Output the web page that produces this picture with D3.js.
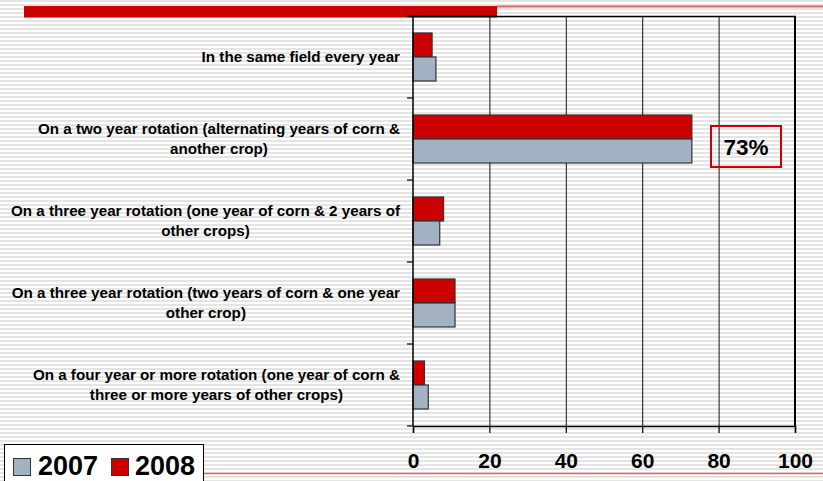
<!DOCTYPE html>
<html>
<head>
<meta charset="utf-8">
<script src="https://cdn.jsdelivr.net/npm/d3@7"></script>
<style>
  html, body { margin: 0; padding: 0; background: #fff; }
  svg { display: block; font-family: "Liberation Sans", Arial, sans-serif; }
</style>
</head>
<body>
<svg id="chart" width="823" height="481"></svg>
<script>
const categories = [
  ["In the same field every year"],
  ["On a two year rotation (alternating years of corn &", "another crop)"],
  ["On a three year rotation (one year of corn & 2 years of", "other crops)"],
  ["On a three year rotation (two years of corn & one year", "other crop)"],
  ["On a four year or more rotation (one year of corn &", "three or more years of other crops)"]
];
const seriesNames = ["2007", "2008"];
const values2007 = [6, 73, 7, 11, 4];
const values2008 = [5, 73, 8, 11, 3];
const xTicks = [0, 20, 40, 60, 80, 100];
const calloutText = "73%";

const colors = { "2007": "#a3b2c2", "2008": "#cc0000" };

const svg = d3.select("#chart");

// striped background
const defs = svg.append("defs");
const pat = defs.append("pattern").attr("id", "stripes")
  .attr("patternUnits", "userSpaceOnUse").attr("width", 8).attr("height", 4);
pat.append("rect").attr("width", 8).attr("height", 4).attr("fill", "#ffffff");
pat.append("rect").attr("width", 8).attr("height", 2).attr("fill", "#e4e4e4");
svg.append("rect").attr("width", 823).attr("height", 481).attr("fill", "url(#stripes)");

// decorative title bar
svg.append("rect").attr("x", 24).attr("y", 6).attr("width", 473).attr("height", 11.5).attr("fill", "#cc0000");
svg.append("line").attr("x1", 497).attr("x2", 823).attr("y1", 6.5).attr("y2", 6.5)
  .attr("stroke", "#e06666").attr("stroke-width", 2);
// bottom decorative line
svg.append("line").attr("x1", 204).attr("x2", 823).attr("y1", 473.5).attr("y2", 473.5)
  .attr("stroke", "#e06666").attr("stroke-width", 1.5);

const x = d3.scaleLinear().domain([0, 100]).range([413, 795]);
const y = d3.scaleBand().domain(d3.range(categories.length)).range([16, 426])
  .paddingInner(34 / 82).paddingOuter(17 / 82);
const ySub = d3.scaleBand().domain(["2008", "2007"]).range([0, y.bandwidth()]);

// vertical gridlines
svg.append("g").selectAll("line").data(xTicks.slice(1, -1)).join("line")
  .attr("x1", d => x(d) + 0.5).attr("x2", d => x(d) + 0.5)
  .attr("y1", 16).attr("y2", 426).attr("stroke", "#111").attr("stroke-width", 1);

// frame top and right
svg.append("line").attr("x1", 408).attr("x2", x(100) + 1).attr("y1", 16.5).attr("y2", 16.5)
  .attr("stroke", "#000").attr("stroke-width", 1.5);
svg.append("line").attr("x1", x(100)).attr("x2", x(100)).attr("y1", 16).attr("y2", 426)
  .attr("stroke", "#000").attr("stroke-width", 2);

// bars
const rows = categories.map((c, i) => ({ i, "2007": values2007[i], "2008": values2008[i] }));
const gBars = svg.append("g");
rows.forEach(r => {
  ["2008", "2007"].forEach(s => {
    gBars.append("rect")
      .attr("x", x(0))
      .attr("y", y(r.i) + ySub(s))
      .attr("width", x(r[s]) - x(0))
      .attr("height", ySub.bandwidth())
      .attr("fill", colors[s])
      .attr("stroke", "#333")
      .attr("stroke-width", 1.2);
  });
});

// y axis line and ticks at category boundaries
const boundaries = d3.range(categories.length + 1).map(i => 16 + i * y.step());
svg.append("line").attr("x1", x(0)).attr("x2", x(0)).attr("y1", 16).attr("y2", 426)
  .attr("stroke", "#000").attr("stroke-width", 1.5);
svg.append("g").selectAll("line").data(boundaries).join("line")
  .attr("x1", 407).attr("x2", x(0)).attr("y1", d => d).attr("y2", d => d)
  .attr("stroke", "#000").attr("stroke-width", 1.2);

// x axis
const xAxis = d3.axisBottom(x).tickValues(xTicks).tickSize(7).tickFormat(d3.format("d"));
const gx = svg.append("g").attr("transform", "translate(0,426)").call(xAxis);
gx.select(".domain").attr("stroke", "#000").attr("stroke-width", 1.5);
gx.selectAll(".tick line").attr("stroke", "#000").attr("stroke-width", 1.2);
gx.selectAll(".tick text").attr("y", 42).attr("dy", 0)
  .attr("font-size", 21).attr("font-weight", "bold").attr("fill", "#000")
  .attr("font-family", "Liberation Sans, Arial, sans-serif");

// category labels: centered lines, block right-aligned at x=400
const gLab = svg.append("g");
const lineH = 20.5;
categories.forEach((lines, i) => {
  const cy = y(i) + y.bandwidth() / 2;
  const t = gLab.append("text").attr("font-size", 15.2).attr("font-weight", "bold").attr("fill", "#000");
  const tsp = lines.map((ln, k) => t.append("tspan").text(ln)
    .attr("y", cy + (k - (lines.length - 1) / 2) * lineH + 5));
  const widths = tsp.map(s => s.node().getComputedTextLength());
  const maxW = d3.max(widths);
  const cx = 400 - maxW / 2;
  tsp.forEach(s => s.attr("x", cx).attr("text-anchor", "middle"));
});

// callout
svg.append("rect").attr("x", 711).attr("y", 126).attr("width", 70).attr("height", 41)
  .attr("fill", "none").attr("stroke", "#cc0000").attr("stroke-width", 2);
svg.append("text").attr("x", 746).attr("y", 155).attr("text-anchor", "middle")
  .attr("font-size", 22.5).attr("font-weight", "bold").text(calloutText);

// legend
const lg = svg.append("g");
lg.append("rect").attr("x", 4.5).attr("y", 444.5).attr("width", 199).attr("height", 40)
  .attr("fill", "#fff").attr("stroke", "#000").attr("stroke-width", 1);
const legendPos = [{ s: "2007", sx: 13, tx: 38 }, { s: "2008", sx: 111, tx: 135 }];
legendPos.forEach(p => {
  lg.append("rect").attr("x", p.sx + 0.5).attr("y", 458.5).attr("width", 17).attr("height", 17)
    .attr("fill", colors[p.s]).attr("stroke", "#333").attr("stroke-width", 1);
  lg.append("text").attr("x", p.tx).attr("y", 474.5).attr("font-size", 27).attr("font-weight", "bold")
    .attr("fill", "#000").text(p.s);
});
</script>
</body>
</html>
